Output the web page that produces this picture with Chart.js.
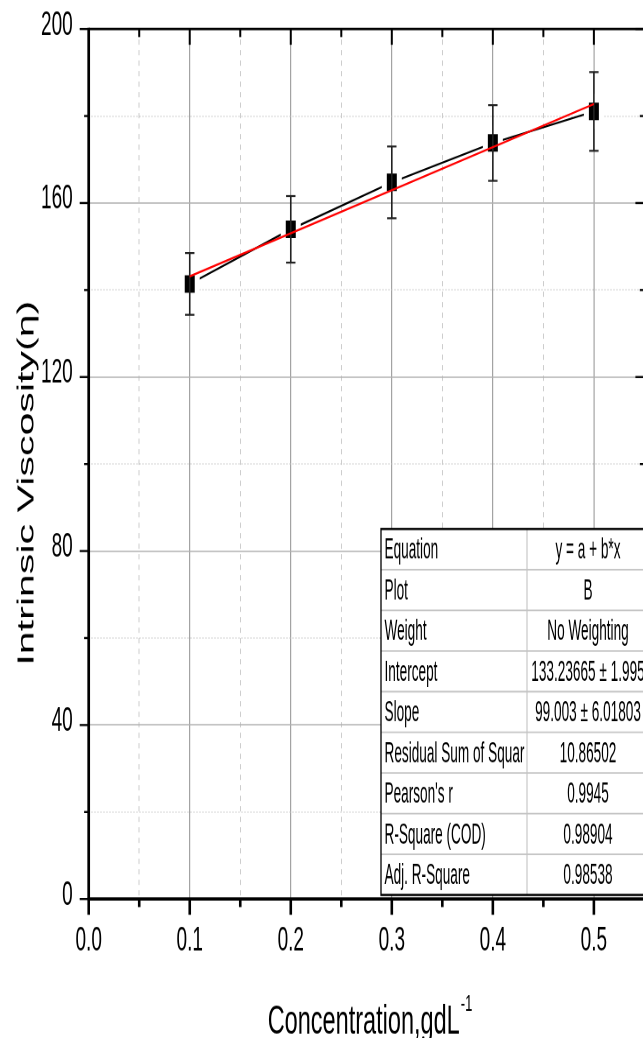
<!DOCTYPE html>
<html>
<head>
<meta charset="utf-8">
<script src="https://cdn.jsdelivr.net/npm/chart.js@4.4.1/dist/chart.umd.min.js"></script>
<style>
  html, body { margin: 0; padding: 0; background: #fff; }
  #frame { width: 643px; height: 1038px; overflow: hidden; position: relative; background: #fff; }
  /* the plot is laid out at 593px tall and stretched vertically to fill the page */
  #plot { width: 660px; height: 593px; transform: scale(1, 1.7504); transform-origin: 0 0; }
</style>
</head>
<body>
<div id="frame"><div id="plot"><canvas id="chart" width="660" height="593"></canvas></div></div>
<script>
// Measured intrinsic viscosity against concentration
const concentration = [0.1, 0.2, 0.3, 0.4, 0.5];
const viscosity = [141.4, 153.95, 164.75, 173.8, 181.05];
const viscosityError = [7.1, 7.65, 8.25, 8.7, 9.05];

// Linear fit y = a + b*x
const fitIntercept = 133.23665;
const fitSlope = 99.003;
const fitRange = [0.1, 0.5];

// Fit report
const statNames = ['Equation', 'Plot', 'Weight', 'Intercept', 'Slope',
  'Residual Sum of Squar', "Pearson's r", 'R-Square (COD)', 'Adj. R-Square'];
const statValues = ['y = a + b*x', 'B', 'No Weighting', '133.23665 \u00b1 1.995',
  '99.003 \u00b1 6.01803', '10.86502', '0.9945', '0.98904', '0.98538'];

// Axis labelling
const xTickLabels = ['0.0', '0.1', '0.2', '0.3', '0.4', '0.5'];
const yTickLabels = ['0', '40', '80', '120', '160', '200'];
const xTitle = 'Concentration,gdL';
const xTitleSup = '-1';
const yTitle = 'Intrinsic Viscosity(\u03b7)';

const FONT = "'Liberation Sans', Arial, sans-serif";

const isMajorX = v => Math.round(v * 100) % 10 === 0;
const isMajorY = v => Math.round(v) % 40 === 0;

function seg(ctx, x0, y0, x1, y1) {
  ctx.beginPath(); ctx.moveTo(x0, y0); ctx.lineTo(x1, y1); ctx.stroke();
}

// Vertical error bars with caps on the measured points
const errorBars = {
  id: 'errorBars',
  afterDatasetDraw(chart, args) {
    if (args.index !== 0) return;
    const { ctx, scales: { x, y } } = chart;
    ctx.save();
    ctx.strokeStyle = '#222';
    concentration.forEach((c, i) => {
      const px = x.getPixelForValue(c);
      const top = y.getPixelForValue(viscosity[i] + viscosityError[i]);
      const bot = y.getPixelForValue(viscosity[i] - viscosityError[i]);
      ctx.lineWidth = 1.6;
      seg(ctx, px, top, px, bot);
      ctx.lineWidth = 1.1;
      seg(ctx, px - 4.7, top, px + 4.7, top);
      seg(ctx, px - 4.7, bot, px + 4.7, bot);
    });
    ctx.restore();
  }
};

// Axis frame, tick marks and axis titles
const axisFrame = {
  id: 'axisFrame',
  afterDraw(chart) {
    const { ctx, chartArea: a, scales: { x, y } } = chart;
    ctx.save();
    ctx.strokeStyle = '#000';
    y.ticks.forEach(t => {
      const py = y.getPixelForValue(t.value);
      const len = isMajorY(t.value) ? 9 : 4.6;
      ctx.lineWidth = 1.2;
      seg(ctx, a.left - len, py, a.left, py);
      seg(ctx, a.right - len, py, a.right, py);
    });
    x.ticks.forEach(t => {
      const px = x.getPixelForValue(t.value);
      const len = isMajorX(t.value) ? 9 : 4.6;
      ctx.lineWidth = 2.6;
      seg(ctx, px, a.bottom, px, a.bottom + len);
      ctx.lineWidth = 2;
      seg(ctx, px, a.top, px, a.top + len);
    });
    ctx.lineWidth = 1.4;
    seg(ctx, a.left, a.top, a.right, a.top);
    ctx.lineWidth = 1.9;
    seg(ctx, a.left - 1.3, a.bottom, a.right, a.bottom);
    ctx.lineWidth = 2.7;
    seg(ctx, a.left, a.top - 0.7, a.left, a.bottom);
    seg(ctx, a.right, a.top - 0.7, a.right, a.bottom);

    // x title with superscript
    ctx.fillStyle = '#000';
    ctx.textBaseline = 'alphabetic';
    ctx.textAlign = 'left';
    ctx.font = '23.5px ' + FONT;
    const w1 = ctx.measureText(xTitle).width;
    ctx.font = '13px ' + FONT;
    const w2 = ctx.measureText(xTitleSup).width;
    const x0 = 370 - (w1 + 1 + w2) / 2;
    ctx.font = '23.5px ' + FONT;
    ctx.fillText(xTitle, x0, 590.6);
    ctx.font = '13px ' + FONT;
    ctx.fillText(xTitleSup, x0 + w1 + 1, 577.5);

    // y title
    ctx.translate(33.5, 276);
    ctx.rotate(-Math.PI / 2);
    ctx.textAlign = 'center';
    ctx.font = '23.5px ' + FONT;
    ctx.fillText(yTitle, 0, 0);
    ctx.restore();
  }
};

// Boxed table with the fit parameters, laid over the frame
const statTable = {
  id: 'statTable',
  afterDraw(chart) {
    const { ctx } = chart;
    const left = 381, mid = 527, right = 649, top = 302.2, rowH = 23.23;
    const bottom = top + rowH * statNames.length;
    ctx.save();
    ctx.fillStyle = '#fff';
    ctx.fillRect(left, top, right - left, bottom - top);
    ctx.strokeStyle = '#c4c4c4';
    ctx.lineWidth = 0.9;
    for (let i = 1; i < statNames.length; i++) seg(ctx, left, top + i * rowH, right, top + i * rowH);
    ctx.lineWidth = 1.1;
    seg(ctx, mid, top, mid, bottom);
    ctx.strokeStyle = '#000';
    ctx.lineWidth = 1.3;
    ctx.strokeRect(left, top, right - left, bottom - top);

    ctx.fillStyle = '#000';
    ctx.font = '16.6px ' + FONT;
    ctx.textBaseline = 'middle';
    const cell = (str, tx, ty, align, x0, x1) => {
      ctx.save();
      ctx.beginPath();
      ctx.rect(x0 + 1, ty - 14, x1 - x0 - 2, 28);
      ctx.clip();
      ctx.translate(tx, ty);
      ctx.scale(0.82, 1);
      ctx.textAlign = align;
      ctx.fillText(str, 0, 0);
      ctx.restore();
    };
    statNames.forEach((name, i) => {
      const cy = top + (i + 0.5) * rowH + 0.8;
      cell(name, left + 3.5, cy, 'left', left, mid);
      cell(statValues[i], (mid + right) / 2, cy, 'center', mid, right);
    });
    ctx.restore();
  }
};

const points = concentration.map((c, i) => ({ x: c, y: viscosity[i] }));
const fitLine = fitRange.map(c => ({ x: c, y: fitIntercept + fitSlope * c }));

new Chart(document.getElementById('chart'), {
  type: 'line',
  data: {
    datasets: [
      {
        label: 'B',
        data: points,
        order: 1,
        borderColor: '#000',
        borderWidth: 1.2,
        tension: 0,
        pointStyle: 'rect',
        pointRadius: 10.6,
        pointBackgroundColor: '#000',
        pointBorderColor: '#fff',
        pointBorderWidth: 5,
        clip: false
      },
      {
        label: 'Linear Fit of B',
        data: fitLine,
        order: 0,
        borderColor: '#ff0000',
        borderWidth: 1.2,
        pointRadius: 0,
        tension: 0,
        clip: false
      }
    ]
  },
  options: {
    responsive: false,
    animation: false,
    devicePixelRatio: 2,
    layout: { padding: { top: 16.57, right: 10.5, left: 0, bottom: 0 } },
    plugins: { legend: { display: false }, tooltip: { enabled: false } },
    scales: {
      x: {
        type: 'linear',
        min: 0,
        max: 0.55,
        afterFit: s => { s.height = 79.4; s.paddingLeft = 0; s.paddingRight = 0; },
        ticks: {
          stepSize: 0.05,
          autoSkip: false,
          maxRotation: 0,
          padding: 13,
          color: '#000',
          font: { family: FONT, size: 19 },
          callback: v => {
            const k = Math.round(v * 100);
            return k % 10 === 0 ? (xTickLabels[k / 10] || '') : '';
          }
        },
        grid: {
          drawTicks: false,
          lineWidth: c => (c.tick && isMajorX(c.tick.value) ? 1.2 : 1),
          color: c => (c.tick && isMajorX(c.tick.value) ? '#a3a3a3' : '#cdcdcd')
        },
        border: {
          display: false,
          dash: c => (c.tick && isMajorX(c.tick.value) ? [] : [3, 3])
        }
      },
      y: {
        type: 'linear',
        min: 0,
        max: 200,
        afterFit: s => { s.width = 88.7; s.paddingTop = 0; s.paddingBottom = 0; },
        ticks: {
          stepSize: 20,
          padding: 16,
          labelOffset: -2,
          color: '#000',
          font: { family: FONT, size: 19 },
          callback: v => (isMajorY(v) ? (yTickLabels[Math.round(v / 40)] || '') : '')
        },
        grid: {
          drawTicks: false,
          lineWidth: 0.8,
          color: c => (c.tick && isMajorY(c.tick.value) ? '#b0b0b0' : '#c8c8c8')
        },
        border: {
          display: false,
          dash: c => (c.tick && isMajorY(c.tick.value) ? [] : [1, 2])
        }
      }
    }
  },
  plugins: [errorBars, axisFrame, statTable]
});
</script>
</body>
</html>
